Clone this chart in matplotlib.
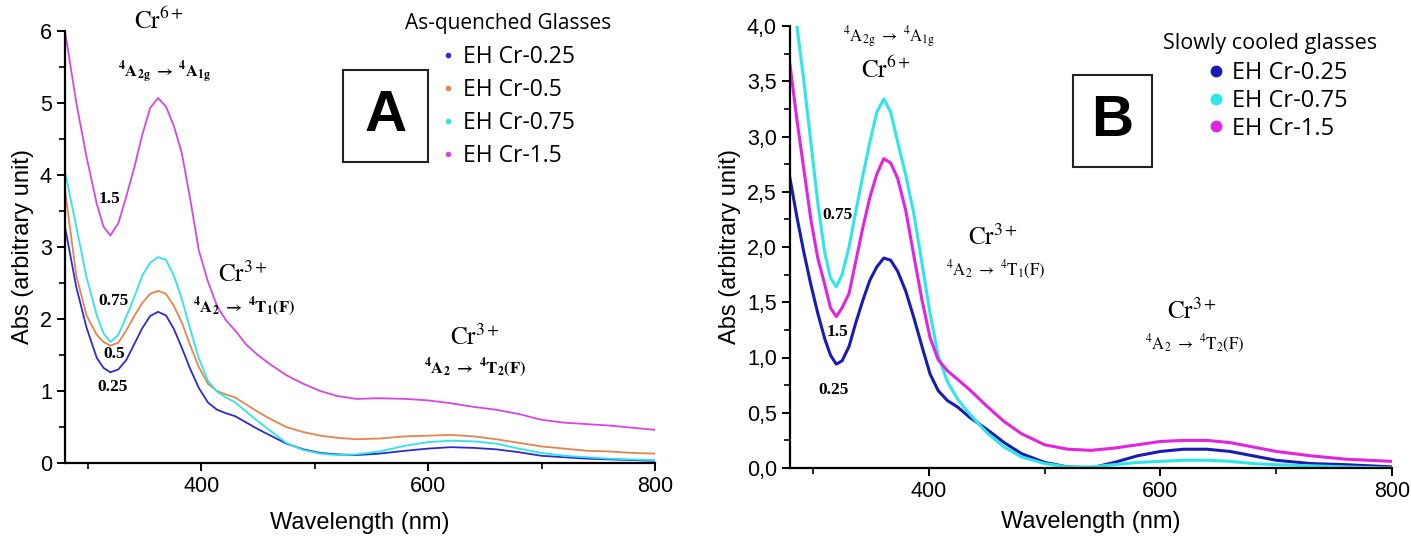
import numpy as np
import matplotlib.pyplot as plt
from matplotlib.lines import Line2D
from matplotlib.patches import Rectangle

plt.rcParams['font.family'] = ['Liberation Sans', 'DejaVu Sans']
plt.rcParams['mathtext.fontset'] = 'stix'

# ---- Panel A: as-quenched glasses ----
wl_a = [280, 290, 299, 308, 314, 320, 327, 334, 341, 348, 355, 362, 369, 376, 383, 390, 398, 406,
        414, 422, 430, 440, 450, 460, 475, 490, 505, 520, 537, 557, 580, 600, 620, 640, 660, 680,
        700, 720, 740, 760, 780, 800]
a_025 = [3.28, 2.44, 1.88, 1.46, 1.32, 1.26, 1.30, 1.43, 1.65, 1.87, 2.04, 2.10, 2.05, 1.86, 1.60,
         1.32, 1.04, 0.84, 0.74, 0.69, 0.65, 0.56, 0.47, 0.39, 0.27, 0.19, 0.14, 0.12, 0.11, 0.13,
         0.17, 0.20, 0.22, 0.21, 0.19, 0.15, 0.10, 0.08, 0.06, 0.05, 0.04, 0.03]
a_05 = [3.79, 2.60, 2.05, 1.78, 1.68, 1.63, 1.67, 1.84, 2.04, 2.22, 2.35, 2.39, 2.35, 2.18, 1.95,
        1.65, 1.33, 1.10, 1.00, 0.95, 0.91, 0.81, 0.71, 0.62, 0.50, 0.43, 0.38, 0.35, 0.33, 0.34,
        0.37, 0.38, 0.39, 0.37, 0.33, 0.28, 0.23, 0.20, 0.17, 0.16, 0.14, 0.13]
a_075 = [4.05, 3.28, 2.58, 2.05, 1.80, 1.68, 1.78, 2.03, 2.30, 2.60, 2.78, 2.86, 2.82, 2.60, 2.28,
         1.88, 1.45, 1.14, 0.99, 0.91, 0.84, 0.71, 0.58, 0.46, 0.28, 0.18, 0.13, 0.11, 0.12, 0.16,
         0.24, 0.29, 0.31, 0.30, 0.27, 0.20, 0.14, 0.10, 0.08, 0.06, 0.05, 0.04]
a_15 = [6.00, 5.00, 4.25, 3.60, 3.28, 3.16, 3.33, 3.70, 4.10, 4.55, 4.93, 5.07, 4.95, 4.68, 4.30,
        3.70, 2.95, 2.52, 2.18, 1.98, 1.84, 1.64, 1.50, 1.38, 1.22, 1.10, 1.00, 0.93, 0.89, 0.90,
        0.89, 0.87, 0.83, 0.78, 0.74, 0.68, 0.60, 0.56, 0.54, 0.52, 0.49, 0.46]

# ---- Panel B: slowly cooled glasses ----
wl_b = [280, 286, 292, 298, 304, 310, 315, 320, 325, 331, 337, 343, 349, 355, 361, 367, 373, 380,
        387, 394, 401, 408, 416, 425, 435, 450, 465, 480, 500, 520, 540, 560, 580, 600, 620, 640,
        660, 680, 700, 730, 760, 800]
b_025 = [2.62, 2.27, 1.95, 1.66, 1.40, 1.17, 1.02, 0.94, 0.97, 1.10, 1.32, 1.52, 1.70, 1.82, 1.90,
         1.88, 1.78, 1.60, 1.36, 1.10, 0.85, 0.70, 0.61, 0.55, 0.46, 0.35, 0.23, 0.13, 0.05, 0.01,
         0.00, 0.05, 0.11, 0.15, 0.17, 0.17, 0.15, 0.11, 0.07, 0.04, 0.03, 0.01]
b_075 = [4.80, 4.00, 3.50, 2.95, 2.40, 1.95, 1.72, 1.64, 1.75, 2.00, 2.33, 2.65, 2.95, 3.22, 3.34,
         3.22, 2.95, 2.65, 2.30, 1.85, 1.40, 1.02, 0.78, 0.62, 0.49, 0.32, 0.19, 0.10, 0.04, 0.01,
         0.01, 0.03, 0.05, 0.06, 0.07, 0.07, 0.06, 0.04, 0.03, 0.02, 0.01, 0.00]
b_15 = [3.65, 3.15, 2.70, 2.25, 1.90, 1.66, 1.45, 1.37, 1.45, 1.58, 1.88, 2.18, 2.45, 2.66, 2.80,
        2.76, 2.62, 2.33, 1.92, 1.52, 1.18, 0.98, 0.88, 0.80, 0.71, 0.56, 0.42, 0.31, 0.21, 0.17,
        0.16, 0.18, 0.21, 0.24, 0.25, 0.25, 0.23, 0.19, 0.15, 0.11, 0.08, 0.06]

labels_a = ['EH Cr-0.25', 'EH Cr-0.5', 'EH Cr-0.75', 'EH Cr-1.5']
colors_a = ['#2b2bd6', '#e8834a', '#2fe3ea', '#d646e6']
labels_b = ['EH Cr-0.25', 'EH Cr-0.75', 'EH Cr-1.5']
colors_b = ['#1a1ab4', '#2ee6e8', '#e024e2']
yticks_b = [0.0, 0.5, 1.0, 1.5, 2.0, 2.5, 3.0, 3.5, 4.0]
yticklabels_b = ['0,0', '0,5', '1,0', '1,5', '2,0', '2,5', '3,0', '3,5', '4,0']

W, H = 1411, 538
fig = plt.figure(figsize=(W / 100, H / 100), dpi=100)


def px(x0, y0, x1, y1):
    return [x0 / W, 1 - y1 / H, (x1 - x0) / W, (y1 - y0) / H]


ax_a = fig.add_axes(px(65, 31, 655, 463))
ax_b = fig.add_axes(px(790, 26, 1392, 468))

for ax, pad in ((ax_a, 11), (ax_b, 6)):
    ax.spines['top'].set_visible(False)
    ax.spines['right'].set_visible(False)
    ax.spines['left'].set_linewidth(1.6)
    ax.spines['bottom'].set_linewidth(1.6)
    ax.set_xlim(280, 800)
    ax.set_xticks([400, 600, 800])
    ax.set_xticks([300, 500, 700], minor=True)
    ax.tick_params(which='major', direction='out', length=6, width=1.4, labelsize=15.5)
    ax.tick_params(which='minor', direction='out', length=4, width=1.2)
    ax.set_xlabel('Wavelength (nm)', fontsize=17, labelpad=pad)
    ax.set_ylabel('Abs (arbitrary unit)', fontsize=17, labelpad=4)

# panel A curves
for y, c in zip([a_025, a_05, a_075, a_15], colors_a):
    ax_a.plot(wl_a, y, color=c, lw=1.3)
ax_a.set_ylim(0, 6)
ax_a.set_yticks(range(0, 7))
ax_a.set_yticks(np.arange(0.5, 6, 1.0), minor=True)

# panel B curves
for y, c in zip([b_025, b_075, b_15], colors_b):
    ax_b.plot(wl_b, y, color=c, lw=2.2)
ax_b.set_ylim(0, 4)
ax_b.set_yticks(yticks_b)
ax_b.set_yticklabels(yticklabels_b)
ax_b.set_yticks(np.arange(0.25, 4, 0.5), minor=True)

serif = ['Liberation Serif', 'DejaVu Serif']
cr6 = r'$\mathrm{Cr^{6+}}$'
cr3 = r'$\mathrm{Cr^{3+}}$'

# annotations A (bold transitions)
ax_a.text(363, 6.14, cr6, fontsize=18, ha='center', va='center', clip_on=False)
ax_a.text(368, 5.43, r'$\mathbf{^4A_{2g}\ \rightarrow\ ^4A_{1g}}$', fontsize=12,
          ha='center', va='center')
for xv, yv, t in [(319, 3.67, '1.5'), (323, 2.25, '0.75'), (323, 1.52, '0.5'), (322, 1.05, '0.25')]:
    ax_a.text(xv, yv, t, family=serif, fontsize=12.5, weight='bold', ha='center', va='center')
ax_a.text(437, 2.63, cr3, fontsize=18, ha='center', va='center')
ax_a.text(438, 2.16, r'$\mathbf{^4A_2\ \rightarrow\ ^4T_1(F)}$', fontsize=12, ha='center', va='center')
ax_a.text(641, 1.75, cr3, fontsize=18, ha='center', va='center')
ax_a.text(641, 1.31, r'$\mathbf{^4A_2\ \rightarrow\ ^4T_2(F)}$', fontsize=12, ha='center', va='center')

# annotations B (regular transitions)
ax_b.text(366, 3.90, r'$\mathrm{^4A_{2g}\ \rightarrow\ ^4A_{1g}}$', fontsize=12, ha='center', va='center')
ax_b.text(363, 3.60, cr6, fontsize=18, ha='center', va='center')
for xv, yv, t in [(321, 2.29, '0.75'), (321, 1.23, '1.5'), (318, 0.71, '0.25')]:
    ax_b.text(xv, yv, t, family=serif, fontsize=12.5, weight='bold', ha='center', va='center')
ax_b.text(455, 2.09, cr3, fontsize=18, ha='center', va='center')
ax_b.text(458, 1.79, r'$\mathrm{^4A_2\ \rightarrow\ ^4T_1(F)}$', fontsize=12, ha='center', va='center')
ax_b.text(627, 1.42, cr3, fontsize=18, ha='center', va='center')
ax_b.text(630, 1.12, r'$\mathrm{^4A_2\ \rightarrow\ ^4T_2(F)}$', fontsize=12, ha='center', va='center')

# panel letter boxes
for (x0, y0, x1, y1), letter in [((343, 70, 428, 162), 'A'), ((1073, 75, 1152, 167), 'B')]:
    fig.add_artist(Rectangle((x0 / W, 1 - y1 / H), (x1 - x0) / W, (y1 - y0) / H,
                             transform=fig.transFigure, fill=False, lw=1.5, ec='#222222'))
    fig.text((x0 + x1) / 2 / W, 1 - (y0 + y1) / 2 / H, letter, fontsize=42, weight='bold',
             ha='center', va='center')

# legends
leg_font = ['Open Sans', 'DejaVu Sans']
fig.text(508 / W, 1 - 23 / H, 'As-quenched Glasses', family=leg_font, fontsize=15,
         ha='center', va='center')
handles_a = [Line2D([], [], ls='none', marker='o', ms=3, color=c) for c in colors_a]
ax_a.legend(handles_a, labels_a, loc='upper left',
            bbox_to_anchor=(439 / W, 1 - 45 / H), bbox_transform=fig.transFigure,
            frameon=False, prop={'family': leg_font, 'size': 16.5},
            handlelength=0.8, handletextpad=0.26, labelspacing=0.4,
            borderaxespad=0, borderpad=0)

fig.text(1270 / W, 1 - 43 / H, 'Slowly cooled glasses', family=leg_font, fontsize=15.5,
         ha='center', va='center')
handles_b = [Line2D([], [], ls='none', marker='o', ms=7.5, color=c) for c in colors_b]
ax_b.legend(handles_b, labels_b, loc='upper left',
            bbox_to_anchor=(1207 / W, 1 - 61 / H), bbox_transform=fig.transFigure,
            frameon=False, prop={'family': leg_font, 'size': 17},
            handlelength=0.8, handletextpad=0.28, labelspacing=0.16,
            borderaxespad=0, borderpad=0)

fig.savefig('out.png', dpi=100)
